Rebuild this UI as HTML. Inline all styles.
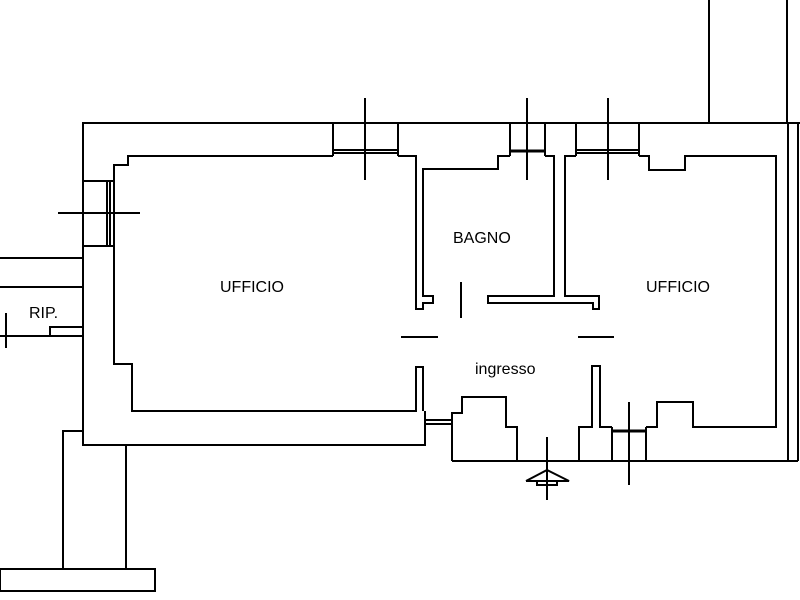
<!DOCTYPE html>
<html><head><meta charset="utf-8"><style>
html,body{margin:0;padding:0;background:#fff;}
svg{display:block}
text{font-family:"Liberation Sans",sans-serif;font-size:16px;fill:#000}
</style></head><body>
<svg width="800" height="600" viewBox="0 0 800 600" xmlns="http://www.w3.org/2000/svg">
<g fill="none" stroke="#000" stroke-width="2">
<!-- outer -->
<polyline points="800,123 83,123 83,445 425,445 425,411"/>
<polyline points="452,461 798,461"/>
<line x1="788" y1="123" x2="788" y2="461"/>
<line x1="798" y1="123" x2="798" y2="461"/>
<line x1="709" y1="0" x2="709" y2="123"/>
<line x1="787" y1="0" x2="787" y2="123"/>
<!-- left office inner -->
<polyline points="333,156 128,156 128,165 114,165 114,364 132,364 132,411 416,411 416,367 423,367 423,411"/>
<polyline points="398,156 416,156 416,309 423,309 423,303 433,303 433,296 423,296 423,169 498,169 498,156 510,156"/>
<polyline points="545,156 554,156 554,296 488,296 488,303 593,303 593,309 599,309 599,296 565,296 565,156 576,156"/>
<polyline points="639,156 649,156 649,170 685,170 685,156 776,156 776,427 693,427 693,402 657,402 657,427 646,427"/>
<polyline points="612,427 600,427 600,366 592,366 592,427 579,427 579,461"/>
<polyline points="452,461 452,413 462,413 462,397 506,397 506,427 517,427 517,461"/>
<!-- windows top -->
<polyline points="333,123 333,156"/><polyline points="398,123 398,156"/>
<line x1="333" y1="150" x2="398" y2="150"/><line x1="333" y1="153" x2="398" y2="153"/>
<polyline points="510,123 510,156"/><polyline points="545,123 545,156"/>
<line x1="510" y1="151" x2="545" y2="151" stroke-width="3"/>
<polyline points="576,123 576,156"/><polyline points="639,123 639,156"/>
<line x1="576" y1="150" x2="639" y2="150"/><line x1="576" y1="153" x2="639" y2="153"/>
<line x1="365" y1="98" x2="365" y2="180"/>
<line x1="527" y1="98" x2="527" y2="180"/>
<line x1="608" y1="98" x2="608" y2="180"/>
<!-- left window -->
<line x1="83" y1="181" x2="114" y2="181"/><line x1="83" y1="246" x2="114" y2="246"/>
<line x1="107" y1="181" x2="107" y2="246"/><line x1="110" y1="181" x2="110" y2="246"/>
<line x1="58" y1="213" x2="140" y2="213"/>
<!-- bottom window left -->
<line x1="425" y1="420" x2="452" y2="420"/><line x1="425" y1="424" x2="452" y2="424"/>
<!-- bottom window right -->
<line x1="612" y1="427" x2="612" y2="461"/><line x1="646" y1="427" x2="646" y2="461"/>
<line x1="612" y1="431" x2="646" y2="431" stroke-width="3"/>
<line x1="629" y1="402" x2="629" y2="485"/>
<!-- doors -->
<line x1="401" y1="337" x2="438" y2="337"/>
<line x1="578" y1="337" x2="614" y2="337"/>
<line x1="461" y1="282" x2="461" y2="318"/>
<!-- left appendages -->
<line x1="0" y1="258" x2="83" y2="258"/>
<line x1="0" y1="287" x2="83" y2="287"/>
<line x1="0" y1="336" x2="83" y2="336"/>
<polyline points="50,336 50,327 83,327"/>
<line x1="6" y1="313" x2="6" y2="348"/>
<line x1="0" y1="336" x2="12" y2="336"/>
<!-- bottom-left -->
<polyline points="83,431 63,431 63,569"/>
<line x1="126" y1="445" x2="126" y2="569"/>
<rect x="0" y="569" width="155" height="22"/>
<!-- entrance -->
<line x1="547" y1="437" x2="547" y2="500"/>
<polyline points="526,481 547,470 569,481 526,481"/>
<rect x="537" y="481" width="20" height="4"/>
</g>
<text x="220" y="292">UFFICIO</text>
<text x="453" y="243">BAGNO</text>
<text x="646" y="292">UFFICIO</text>
<text x="475" y="374">ingresso</text>
<text x="29" y="318">RIP.</text>
</svg>
</body></html>
